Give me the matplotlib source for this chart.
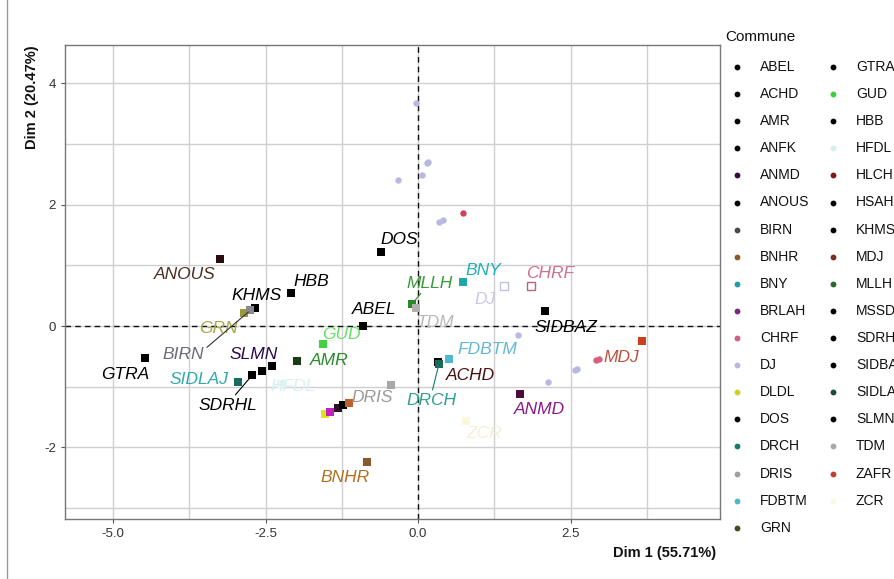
import matplotlib
matplotlib.use("Agg")
import matplotlib.pyplot as plt
from matplotlib.ticker import FixedLocator

# ---------------- data ----------------
communes = ["ABEL", "ACHD", "AMR", "ANFK", "ANMD", "ANOUS", "BIRN", "BNHR", "BNY",
            "BRLAH", "CHRF", "DJ", "DLDL", "DOS", "DRCH", "DRIS", "FDBTM", "GRN",
            "GTRA", "GUD", "HBB", "HFDL", "HLCH", "HSAH", "KHMS", "MDJ", "MLLH",
            "MSSD", "SDRHL", "SIDBAZ", "SIDLAJ", "SLMN", "TDM", "ZAFR", "ZCR"]
legend_colors = ["#000000", "#0a0a0a", "#050505", "#000000", "#3a0a3a", "#000000",
                 "#4a4a4a", "#8a5a2a", "#20a0a8", "#7a2a7a", "#d06080", "#b8b8dc",
                 "#d0d020", "#000000", "#1a7a6a", "#a0a0a0", "#50b8c8", "#4a4a20",
                 "#000000", "#40cc40", "#000000", "#d4f0ee", "#7a1a1a", "#000000",
                 "#000000", "#7a3020", "#2a6a2a", "#000000", "#000000", "#000000",
                 "#1a4a40", "#000000", "#a8a8a8", "#c04030", "#fdf8e0"]

# square (commune) points
sq_names = ["ANOUS", "DOS", "HBB", "KHMS", "GRN", "BIRN", "ABEL", "GUD", "AMR", "GTRA",
            "SLMN", "HSAH", "SDRHL", "SIDLAJ", "HFDL", "DRIS", "DLDL", "BRLAH", "ANFK",
            "MSSD", "ZAFR", "BNHR", "MLLH", "TDM", "BNY", "DJ", "CHRF", "SIDBAZ", "MDJ",
            "FDBTM", "ACHD", "DRCH", "ANMD", "ZCR"]
sq_x = [-3.25, -0.61, -2.08, -2.67, -2.85, -2.75, -0.90, -1.56, -1.98, -4.48,
        -2.39, -2.56, -2.72, -2.96, -2.25, -0.44, -1.52, -1.44, -1.31,
        -1.23, -1.13, -0.84, -0.10, -0.04, 0.74, 1.41, 1.85, 2.08, 3.67,
        0.51, 0.32, 0.34, 1.67, 0.78]
sq_y = [1.10, 1.22, 0.54, 0.30, 0.21, 0.26, 0.00, -0.30, -0.58, -0.53,
        -0.66, -0.74, -0.81, -0.92, -0.95, -0.97, -1.45, -1.42, -1.35,
        -1.30, -1.27, -2.24, 0.36, 0.30, 0.72, 0.66, 0.66, 0.24, -0.25,
        -0.54, -0.60, -0.63, -1.12, -1.57]

# individual (circle) points
pt_x = [-0.04, 0.17, 0.14, 0.06, -0.33, 0.35, 0.41, 1.64, 2.60, 2.57, 2.13, 0.73, 2.92, 2.96]
pt_y = [3.68, 2.70, 2.68, 2.48, 2.40, 1.71, 1.75, -0.15, -0.71, -0.73, -0.92, 1.87, -0.56, -0.54]
pt_group = ["DJ", "DJ", "DJ", "DJ", "DJ", "DJ", "DJ", "DJ", "DJ", "DJ", "DJ", "HLCH", "CHRF", "CHRF"]

x_ticks = [-5.0, -2.5, 0.0, 2.5]
x_tick_labels = ["-5.0", "-2.5", "0.0", "2.5"]
y_ticks = [-2, 0, 2, 4]
y_tick_labels = ["-2", "0", "2", "4"]
x_title = "Dim 1 (55.71%)"
y_title = "Dim 2 (20.47%)"
legend_title = "Commune"

# ---------------- styles ----------------
marker_color = {
    "ANOUS": "#2a0c0c", "DOS": "#000000", "HBB": "#000000", "KHMS": "#000000",
    "GRN": "#9a9a3a", "BIRN": "#8a8a8a", "ABEL": "#000000", "GUD": "#40d040",
    "AMR": "#1a3a1a", "GTRA": "#000000", "SLMN": "#000000", "HSAH": "#000000",
    "SDRHL": "#000000", "SIDLAJ": "#1a6a62", "HFDL": "#e4f6f4", "DRIS": "#a8a8a8",
    "DLDL": "#e0e020", "BRLAH": "#c020c0", "ANFK": "#2a102a", "MSSD": "#000000",
    "ZAFR": "#c06030", "BNHR": "#8a5a2a", "MLLH": "#2a8a2a", "TDM": "#b0b0b0",
    "BNY": "#20a8a8", "DJ": "#c0c0e0", "CHRF": "#c06080", "SIDBAZ": "#000000",
    "MDJ": "#c84020", "FDBTM": "#50b8d0", "ACHD": "#000000", "DRCH": "#1a6a5a",
    "ANMD": "#4a0a3a", "ZCR": "#fcf6dc",
}
hollow = {"DJ", "CHRF"}
pt_color = {"DJ": "#b8b8e0", "HLCH": "#cc4455", "CHRF": "#d8607a"}

label_color = {
    "ANOUS": "#4a3020", "DOS": "#000000", "HBB": "#000000", "KHMS": "#000000",
    "GRN": "#a8a848", "BIRN": "#6a6a7a", "ABEL": "#000000", "GUD": "#66e066",
    "AMR": "#2a8a2a", "GTRA": "#000000", "SLMN": "#2a0a4a", "SDRHL": "#000000",
    "SIDLAJ": "#30a8b0", "HFDL": "#d8f0f0", "DRIS": "#9a9a9a", "BNHR": "#b07020",
    "MLLH": "#3a9a3a", "TDM": "#b8b8b8", "BNY": "#20b0b8", "DJ": "#c8c8e8",
    "CHRF": "#d07090", "SIDBAZ": "#000000", "MDJ": "#c05040", "FDBTM": "#60b8d8",
    "ACHD": "#4a1010", "DRCH": "#30a090", "ANMD": "#8a1a8a", "ZCR": "#f4f0d8",
}
# label offsets in pixels (dx right, dy down)
label_off = {
    "ANOUS": (-35, 15), "DOS": (18, -12), "HBB": (20, -12), "KHMS": (1, -12),
    "GRN": (-26, 15), "BIRN": (-67, 44), "ABEL": (11, -17), "GUD": (18, -10),
    "AMR": (32, -1), "GTRA": (-20, 16), "SLMN": (-19, -12), "SDRHL": (-24, 30),
    "SIDLAJ": (-39, -2), "HFDL": (12, 3), "DRIS": (-19, 13), "BNHR": (-22, 16),
    "MLLH": (18, -21), "TDM": (20, 15), "BNY": (20, -12), "DJ": (-19, 14),
    "CHRF": (19, -12), "SIDBAZ": (21, 16), "MDJ": (-21, 16), "FDBTM": (38, -9),
    "ACHD": (33, 13), "DRCH": (-7, 36), "ANMD": (19, 16), "ZCR": (18, 12),
}
connectors = {"BIRN": ((1.0, 0.8), "#333333"), "SDRHL": ((0.58, 1.0), "#000000"),
              "MLLH": ((0.35, 0.0), "#2a8a2a"), "DRCH": ((0.5, 1.0), "#1a7a6a")}

W, H = 894, 579
fig = plt.figure(figsize=(W / 100, H / 100), dpi=100)
fig.patch.set_facecolor("white")
plt.rcParams["font.family"] = ["Liberation Sans", "DejaVu Sans"]

L, R, T, B = 65, 720, 45, 519
ax = fig.add_axes([L / W, 1 - B / H, (R - L) / W, (B - T) / H])
ax.set_xlim(-5.79, 4.95)
ax.set_ylim(-3.18, 4.63)

ax.xaxis.set_major_locator(FixedLocator(x_ticks))
ax.xaxis.set_minor_locator(FixedLocator([-3.75, -1.25, 1.25, 3.75]))
ax.yaxis.set_major_locator(FixedLocator(y_ticks))
ax.yaxis.set_minor_locator(FixedLocator([-3, -1, 1, 3]))
ax.set_xticklabels(x_tick_labels)
ax.set_yticklabels(y_tick_labels)
ax.grid(True, which="both", color="#cfcfcf", linewidth=1.0)
ax.set_axisbelow(True)
ax.tick_params(which="major", length=3, color="#555555", labelsize=9.5,
               labelcolor="#333333", width=0.8)
ax.tick_params(which="minor", length=0)
for s in ax.spines.values():
    s.set_color("#777777")
    s.set_linewidth(1.0)

ax.axhline(0, color="#111111", linestyle=(0, (4, 3)), linewidth=1.0, zorder=2)
ax.axvline(0, color="#111111", linestyle=(0, (4, 3)), linewidth=1.0, zorder=2)

# circles
for x, y, g in zip(pt_x, pt_y, pt_group):
    ax.plot(x, y, "o", color=pt_color[g], markersize=4.6, markeredgewidth=0, zorder=3)

# squares
for n, x, y in zip(sq_names, sq_x, sq_y):
    c = marker_color[n]
    if n in hollow:
        ax.plot(x, y, "s", markerfacecolor="white", markeredgecolor=c,
                markersize=5.2, markeredgewidth=1.0, zorder=4)
    else:
        ax.plot(x, y, "s", color=c, markersize=5.6, markeredgewidth=0, zorder=4)

# labels
for n, x, y in zip(sq_names, sq_x, sq_y):
    if n not in label_off:
        continue
    dx, dy = label_off[n]
    kw = dict(textcoords="offset pixels", ha="center", va="center",
              fontsize=12.5, fontstyle="italic", color=label_color[n], zorder=5)
    if n in connectors:
        rp, lc = connectors[n]
        kw["arrowprops"] = dict(arrowstyle="-", color=lc, lw=0.8, relpos=rp,
                                shrinkA=0, shrinkB=2)
    ax.annotate(n, (x, y), xytext=(dx, -dy), **kw)

# axis titles
fig.text(665 / W, 1 - 553 / H, x_title, ha="center", va="center",
         fontsize=10.5, fontweight="bold", color="#111111")
fig.text(32 / W, 1 - 97 / H, y_title, ha="center", va="center", rotation=90,
         fontsize=10.5, fontweight="bold", color="#111111")

# legend (manual, ggplot-like)
lax = fig.add_axes([0, 0, 1, 1], facecolor="none")
lax.set_xlim(0, W)
lax.set_ylim(H, 0)
lax.axis("off")
lax.text(725, 37, legend_title, ha="left", va="center", fontsize=11, color="#111111")
nrow = 18
for i, (n, c) in enumerate(zip(communes, legend_colors)):
    col, row = divmod(i, nrow)
    yy = 67 + 27.1 * row
    mx = 737 + 96 * col
    lax.plot(mx, yy, "o", color=c, markersize=4.2, markeredgewidth=0)
    lax.text(mx + 23, yy, n, ha="left", va="center", fontsize=10, color="#111111")

# thin image border on left
lax.plot([7, 7], [0, H], color="#999999", linewidth=1.0)

fig.savefig("out.png", dpi=100, facecolor="white")
